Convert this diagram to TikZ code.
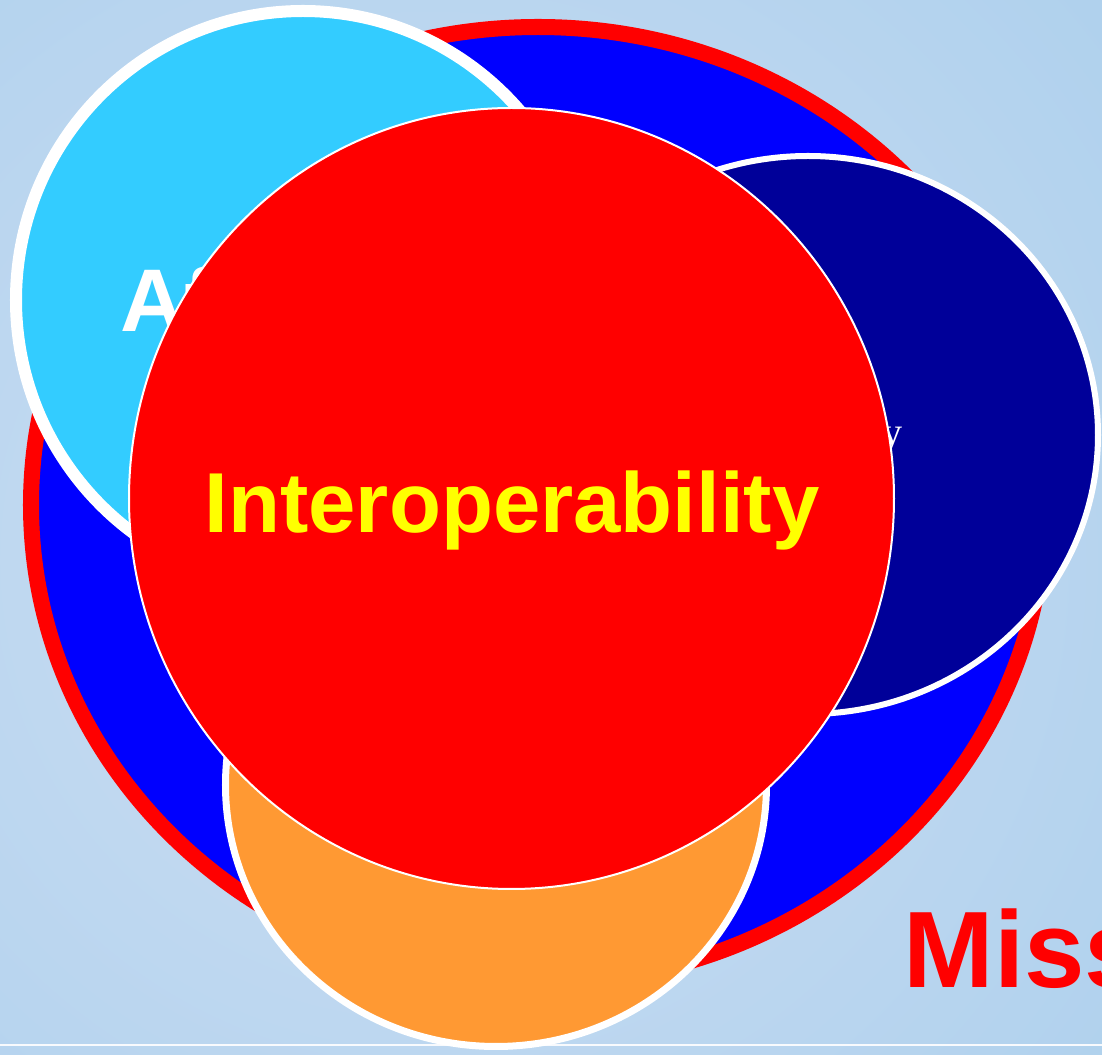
\documentclass[tikz,border=0pt]{standalone}
\usepackage{fontspec}
\newfontfamily\arialfont{Liberation Sans}
\newfontfamily\timesfont{Liberation Serif}

\definecolor{bgInner}{HTML}{CDDEF3}
\definecolor{bgOuter}{HTML}{92C4E7}
\definecolor{ringRed}{HTML}{FF0000}
\definecolor{coreBlue}{HTML}{0000FF}
\definecolor{skyBlue}{HTML}{33CCFF}
\definecolor{navyBlue}{HTML}{000099}
\definecolor{orangeFill}{HTML}{FF9933}
\definecolor{textYellow}{HTML}{FFFF00}

\begin{document}
\begin{tikzpicture}[x=0.01cm,y=-0.01cm,
	bubble/.style={draw=white,line width=#1},
	bigword/.style={font=\arialfont\bfseries\fontsize{#1}{#1}\selectfont, inner sep=0pt}]
	\useasboundingbox (0,0) rectangle (1102,1055);
	\clip (0,0) rectangle (1102,1055);
	% background
	\shade[inner color=bgInner, outer color=bgOuter] (430,560) circle (1750);
	\draw[white!85!bgInner, line width=0.025cm] (0,1045) -- (1102,1045);
	% outer ring
	\draw[ringRed, fill=coreBlue, line width=0.16cm] (538,505) ellipse [x radius=507, y radius=478];
	% side bubbles
	\draw[bubble=0.12cm, fill=skyBlue] (303,300) ellipse [x radius=287, y radius=289];
	\node (afford) [bigword=25.3pt, white, anchor=base west] at (120,332) {Affordability};
	\draw[bubble=0.06cm, fill=navyBlue] (808,435) ellipse [x radius=290, y radius=279];
	\node (support) [font=\timesfont\fontsize{11.4pt}{12pt}\selectfont, white, inner sep=0pt, anchor=base east] at (903,446) {Supportability};
	\draw[bubble=0.07cm, fill=orangeFill] (496,785) ellipse [x radius=270.5, y radius=261.5];
	% centre bubble
	\draw[bubble=0.02cm, fill=ringRed] (511.5,498.5) ellipse [x radius=382.5, y radius=390.5];
	\node (interop) [bigword=24.2pt, textYellow, anchor=base] at (512,533) {Interoperability};
	\node (mission) [bigword=30.9pt, ringRed, anchor=base west] at (903,988) {Miss};
\end{tikzpicture}
\end{document}
